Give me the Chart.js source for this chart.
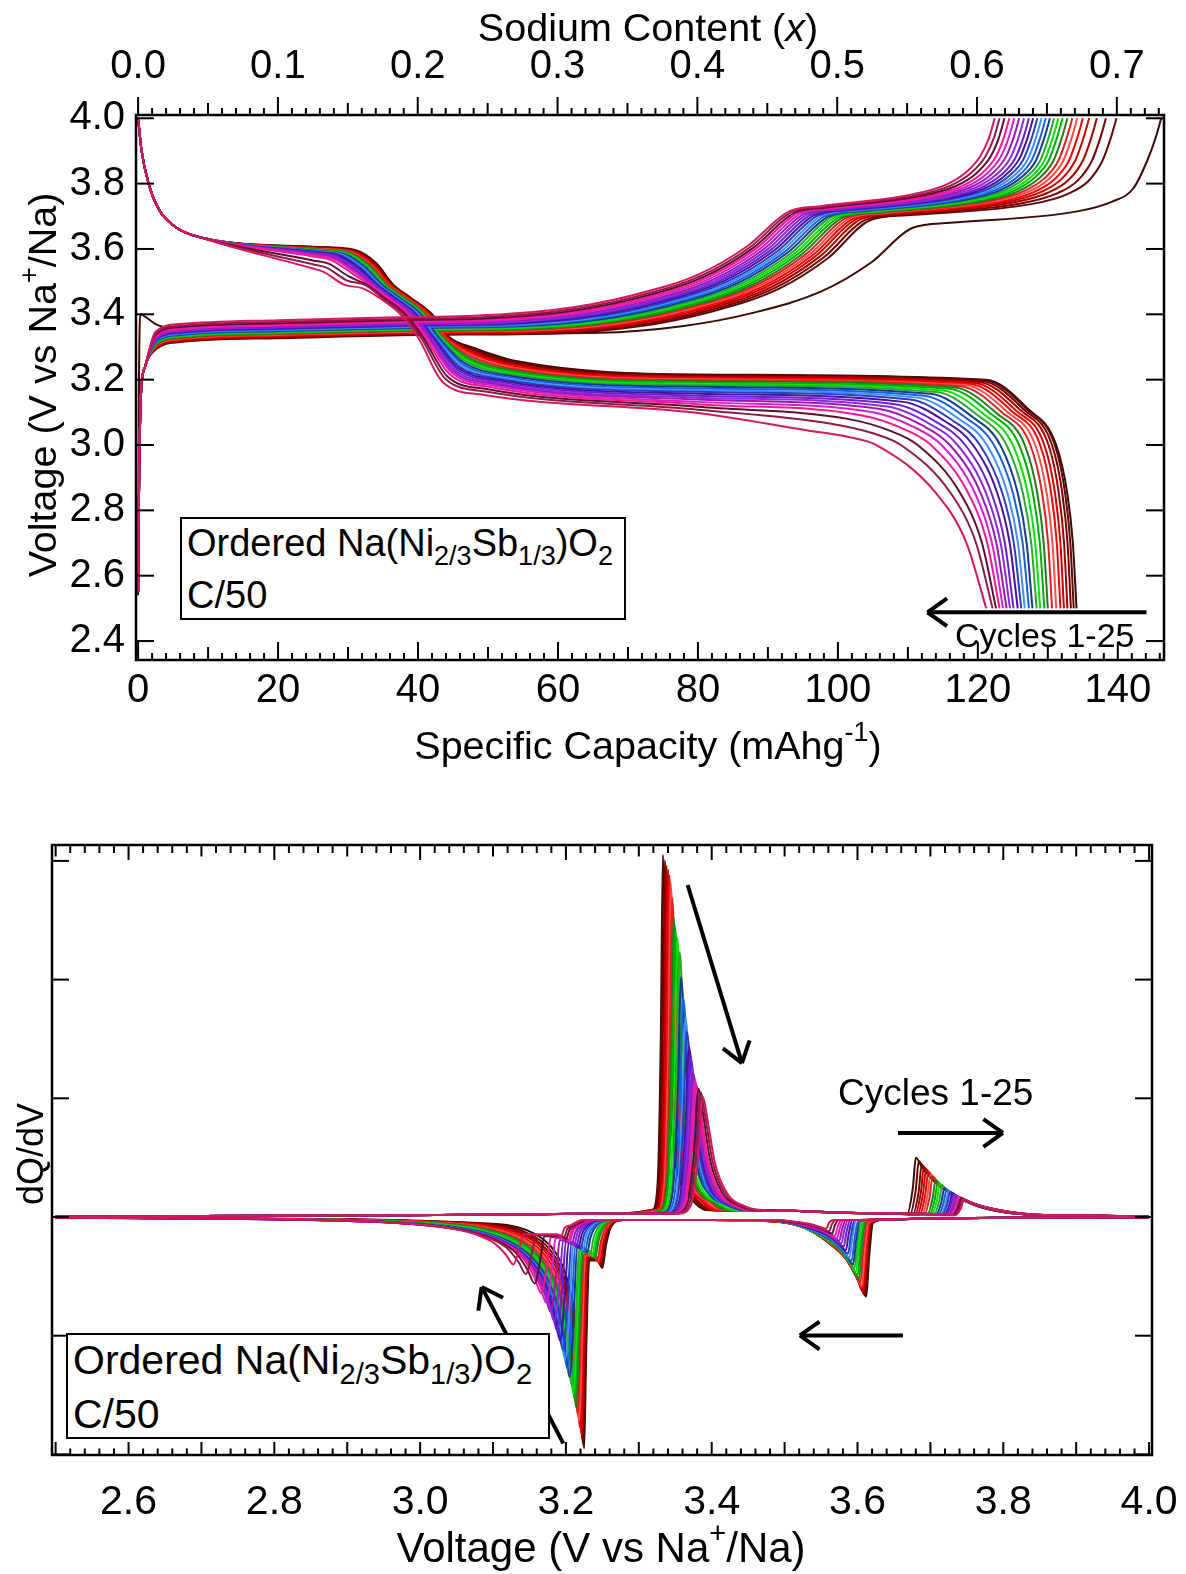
<!DOCTYPE html>
<html>
<head>
<meta charset="utf-8">
<script src="https://cdn.jsdelivr.net/npm/chart.js@4.4.1/dist/chart.umd.min.js"></script>
<style>
  body { margin: 0; background: #fff; }
  #page { position: relative; width: 1186px; height: 1574px; font-family: "Liberation Sans", Arial, sans-serif; color: #000; }
  canvas { position: absolute; left: 0; }
  #capChart { top: 0; }
  #dqdvChart { top: 790px; }
  .note { position: absolute; background: #fff; border: 2px solid #000; box-sizing: border-box; white-space: nowrap; }
  .note .s { position: relative; }
  .label { position: absolute; white-space: nowrap; line-height: 1; }
</style>
</head>
<body>
<div id="page">
  <canvas id="capChart" width="1186" height="780"></canvas>
  <canvas id="dqdvChart" width="1186" height="784"></canvas>

  <div class="note" style="left:180px;top:517px;width:446px;height:103px;font-size:38px;line-height:48px;padding-left:5px">Ordered Na(Ni<span class="s" style="font-size:27px;top:9px">2/3</span>Sb<span class="s" style="font-size:27px;top:9px">1/3</span>)O<span class="s" style="font-size:27px;top:9px">2</span><br>C/50</div>
  <div class="label" style="left:955px;top:618px;font-size:34px">Cycles 1-25</div>

  <div class="note" style="left:66px;top:1333px;width:484px;height:106px;font-size:41px;line-height:50px;padding-left:5px">Ordered Na(Ni<span class="s" style="font-size:29px;top:10px">2/3</span>Sb<span class="s" style="font-size:29px;top:10px">1/3</span>)O<span class="s" style="font-size:29px;top:10px">2</span><br>C/50</div>
  <div class="label" style="left:838px;top:1074px;font-size:37px">Cycles 1-25</div>
</div>

<script>
/* ---------- DATA, cycles 1..25 ---------- */
const cycles = Array.from({ length: 25 }, (_, i) => "Cycle " + (i + 1));

const capTicks = [0, 20, 40, 60, 80, 100, 120, 140];
const naTicks = [0, 0.1, 0.2, 0.3, 0.4, 0.5, 0.6, 0.7];
const voltTicks = [2.4, 2.6, 2.8, 3.0, 3.2, 3.4, 3.6, 3.8, 4.0];
const dqdvVoltTicks = [2.6, 2.8, 3.0, 3.2, 3.4, 3.6, 3.8, 4.0];
const mAhPerNa = 199.8; // 0.7 Na sits at 139.9 mAh/g

// discharge (4.0 -> 2.5 V)
const dischargeHead = [[0, 4.0], [0.5, 3.9], [1.5, 3.8], [3, 3.72], [5.5, 3.665], [9, 3.635]];
const dischargeUpperV = [3.607, 3.606, 3.605, 3.604, 3.603, 3.602, 3.601, 3.600, 3.599, 3.598, 3.597, 3.596, 3.595, 3.594, 3.593, 3.592, 3.590, 3.588, 3.586, 3.584, 3.581, 3.577, 3.565, 3.553, 3.540];
const dischargeStepQ = [42.0, 41.9, 41.8, 41.7, 41.6, 41.5, 41.3, 41.2, 41.0, 40.9, 40.7, 40.6, 40.4, 40.2, 40.0, 39.8, 39.6, 39.4, 39.2, 39.0, 38.8, 38.5, 38.2, 37.9, 37.5];
const dischargeV50 = [3.257, 3.254, 3.251, 3.248, 3.245, 3.242, 3.238, 3.234, 3.230, 3.226, 3.222, 3.218, 3.214, 3.210, 3.206, 3.202, 3.198, 3.194, 3.190, 3.186, 3.182, 3.177, 3.170, 3.163, 3.153];
const dischargeV80 = [3.216, 3.214, 3.212, 3.210, 3.207, 3.204, 3.201, 3.198, 3.195, 3.191, 3.187, 3.183, 3.178, 3.173, 3.168, 3.163, 3.157, 3.151, 3.145, 3.139, 3.132, 3.125, 3.117, 3.108, 3.098];
const dischargeKneeV = [3.200, 3.198, 3.196, 3.193, 3.190, 3.187, 3.184, 3.180, 3.176, 3.172, 3.167, 3.162, 3.157, 3.151, 3.145, 3.139, 3.132, 3.125, 3.118, 3.110, 3.101, 3.091, 3.080, 3.065, 3.045];
const dischargeQ3V = [131.2, 131.0, 130.6, 130.1, 129.5, 128.9, 128.2, 127.5, 126.7, 125.9, 125.0, 124.1, 123.2, 122.3, 121.3, 120.3, 119.3, 118.2, 117.1, 116.0, 114.8, 113.3, 111.4, 109.0, 105.5];
const dischargeEnd = [134.1, 133.7, 133.3, 132.8, 132.3, 131.8, 131.2, 130.6, 130.0, 129.5, 128.9, 128.4, 127.8, 127.3, 126.7, 126.2, 125.7, 125.1, 124.6, 124.1, 123.6, 123.1, 122.6, 122.1, 121.2];

// charge (2.5 -> 4.0 V)
const firstChargeHead = [[0, 2.54], [0.1, 3.1], [0.3, 3.40], [1.2, 3.39], [2.5, 3.37], [5, 3.355], [9, 3.345]];
const chargeLowV = [3.330, 3.327, 3.329, 3.331, 3.333, 3.335, 3.337, 3.339, 3.341, 3.343, 3.345, 3.347, 3.349, 3.351, 3.353, 3.355, 3.357, 3.359, 3.361, 3.363, 3.366, 3.369, 3.373, 3.377, 3.382];
const chargeStepQ = [110.7, 104.6, 104.0, 103.4, 102.8, 102.3, 101.8, 101.3, 100.8, 100.3, 99.8, 99.3, 98.8, 98.3, 97.8, 97.3, 96.8, 96.3, 95.8, 95.3, 94.8, 94.3, 93.9, 93.5, 93.1];
const chargeHighV = [3.665, 3.688, 3.690, 3.692, 3.693, 3.694, 3.695, 3.696, 3.697, 3.698, 3.699, 3.700, 3.701, 3.702, 3.703, 3.704, 3.705, 3.706, 3.707, 3.708, 3.709, 3.710, 3.712, 3.714, 3.716];
const chargeEnd = [146.2, 139.8, 138.3, 137.0, 135.9, 135.0, 134.2, 133.5, 132.8, 132.1, 131.5, 130.9, 130.3, 129.7, 129.1, 128.5, 127.9, 127.3, 126.6, 125.9, 125.2, 124.5, 123.8, 123.1, 122.4];
const chargeRiseShape = [[-45, 0.04], [-33, 0.1], [-23, 0.22], [-13, 0.42], [-6, 0.68], [0, 1]];

// dQ/dV, charge peaks
const chargePeakV = [3.333, 3.334, 3.336, 3.338, 3.340, 3.342, 3.344, 3.346, 3.348, 3.350, 3.353, 3.356, 3.358, 3.361, 3.364, 3.366, 3.369, 3.371, 3.373, 3.375, 3.377, 3.379, 3.382, 3.385, 3.388];
const chargePeakH = [3.05, 3.02, 3.00, 2.96, 2.93, 2.88, 2.81, 2.69, 2.52, 2.44, 2.35, 2.23, 2.02, 1.85, 1.68, 1.56, 1.43, 1.35, 1.26, 1.20, 1.15, 1.11, 1.08, 1.05, 1.01];
const chargePeakW = [0.0035, 0.0036, 0.0037, 0.0038, 0.0040, 0.0042, 0.0044, 0.0046, 0.0048, 0.0050, 0.0052, 0.0055, 0.0058, 0.0060, 0.0062, 0.0064, 0.0066, 0.0068, 0.0070, 0.0072, 0.0074, 0.0076, 0.0078, 0.0080, 0.0082];
const chargePeakShape = [[-4, 0.02], [-2, 0.1], [-0.8, 0.5], [0, 1], [0.8, 0.8], [2, 0.45], [4, 0.2], [7, 0.09], [11, 0.05]];
const chargePeak2V = [3.680, 3.684, 3.688, 3.691, 3.694, 3.697, 3.700, 3.703, 3.707, 3.710, 3.713, 3.716, 3.719, 3.722, 3.725, 3.727, 3.730, 3.732, 3.734, 3.736, 3.738, 3.740, 3.742, 3.744, 3.746];
const chargePeak2H = [0.50, 0.47, 0.44, 0.42, 0.40, 0.38, 0.36, 0.34, 0.31, 0.29, 0.28, 0.26, 0.24, 0.23, 0.22, 0.21, 0.20, 0.19, 0.18, 0.175, 0.17, 0.165, 0.16, 0.155, 0.15];
const chargePeak2Shape = [[-0.012, 0.05], [-0.004, 0.5], [0, 1], [0.008, 0.85], [0.025, 0.6], [0.05, 0.38], [0.08, 0.2], [0.12, 0.08], [0.17, 0.03]];

// dQ/dV, discharge peaks
const dischargePeakV = [3.225, 3.224, 3.223, 3.222, 3.221, 3.219, 3.218, 3.216, 3.214, 3.212, 3.210, 3.208, 3.205, 3.202, 3.199, 3.196, 3.192, 3.188, 3.184, 3.179, 3.173, 3.166, 3.157, 3.145, 3.128];
const dischargePeakH = [1.95, 1.93, 1.90, 1.86, 1.82, 1.77, 1.72, 1.66, 1.60, 1.54, 1.48, 1.42, 1.35, 1.28, 1.20, 1.12, 1.04, 0.96, 0.88, 0.80, 0.72, 0.64, 0.56, 0.48, 0.40];
const dischargePeakW = [0.010, 0.011, 0.012, 0.012, 0.013, 0.014, 0.015, 0.016, 0.017, 0.018, 0.019, 0.020, 0.021, 0.022, 0.023, 0.024, 0.025, 0.026, 0.027, 0.028, 0.029, 0.030, 0.031, 0.032, 0.033];
const dischargePeakShape = [[-12, 0.03], [-7, 0.07], [-4, 0.15], [-2.5, 0.25], [-1.5, 0.38], [-0.8, 0.55], [-0.3, 0.8], [0, 1], [0.3, 0.55]];
const dischargeShoulderV = [3.250, 3.249, 3.248, 3.247, 3.246, 3.245, 3.244, 3.243, 3.240, 3.238, 3.236, 3.233, 3.229, 3.226, 3.223, 3.220, 3.217, 3.214, 3.211, 3.208, 3.205, 3.203, 3.200, 3.197, 3.193];
const dischargeShoulderH = [0.43, 0.42, 0.41, 0.40, 0.39, 0.38, 0.38, 0.37, 0.35, 0.34, 0.33, 0.32, 0.30, 0.29, 0.28, 0.27, 0.26, 0.25, 0.24, 0.23, 0.21, 0.20, 0.19, 0.18, 0.17];
const dischargeHighV = [3.612, 3.611, 3.610, 3.609, 3.608, 3.607, 3.606, 3.604, 3.602, 3.600, 3.598, 3.596, 3.594, 3.592, 3.589, 3.587, 3.584, 3.581, 3.578, 3.575, 3.572, 3.569, 3.565, 3.561, 3.557];
const dischargeHighH = [0.67, 0.66, 0.65, 0.64, 0.62, 0.60, 0.58, 0.55, 0.52, 0.49, 0.46, 0.43, 0.40, 0.37, 0.34, 0.31, 0.28, 0.25, 0.22, 0.20, 0.18, 0.16, 0.14, 0.12, 0.10];
const dischargeHighShape = [[-0.12, 0.06], [-0.08, 0.15], [-0.05, 0.33], [-0.025, 0.55], [-0.01, 0.8], [0, 1], [0.004, 0.5], [0.009, 0.08], [0.02, 0.02]];

/* ---------- STYLE ---------- */
const cycleColors = [
  "#3d0a05", "#5c0a0a", "#7a0000", "#a30000", "#d10000", "#ff0000", "#ff4a4a", "#e02020",
  "#1e7d1e", "#00b000", "#00e600", "#2fa82f",
  "#123c8c", "#1a5fe0", "#3f8fff", "#2a3fbf",
  "#4b0f9e", "#6a1fd0", "#8a2be2", "#9c1aa8",
  "#d21fd2", "#ff1493", "#5c1030", "#8f1a4a", "#d6185e"
];
const FONT = '"Liberation Sans", Arial, sans-serif';

/* ---------- CURVE BUILDERS ---------- */
function dischargeCurve(i) {
  const u = dischargeUpperV[i], S = dischargeStepQ[i];
  const K = dischargeQ3V[i], E = dischargeEnd[i], wK = dischargeKneeV[i];
  return dischargeHead.concat([
    [25, u], [S - 11, u - 0.01], [S - 8, u - 0.05], [S - 5.5, Math.min(3.49, u - 0.06)],
    [S - 3, 3.45], [S, 3.40], [S + 2.5, 3.33], [S + 6, dischargeV50[i] + 0.04], [S + 12, dischargeV50[i]],
    [80, dischargeV80[i]], [K - 10, wK], [K - 4, 3.0 + (wK - 3.0) * 0.55], [K, 3.0],
    [K + (E - K) * 0.55, 2.85], [K + (E - K) * 0.82, 2.7], [E, 2.5]
  ]);
}

function chargeCurve(i) {
  const p = chargeLowV[i], A = chargeStepQ[i], h = chargeHighV[i], E = chargeEnd[i];
  const head = i === 0 ? firstChargeHead
    : [[0, 2.55], [0.15, 2.9], [0.4, 3.15], [1, 3.24], [2.5, p - 0.035], [6, p - 0.012]];
  const rise = chargeRiseShape.map(([dq, f]) => [A + dq, p + f * (h - p)]);
  return head.concat([[20, p], [40, p + 0.01]], rise, [
    [A + (E - A) * 0.15, h + 0.015], [E - 12, h + 0.05], [E - 7, h + 0.08], [E - 4, h + 0.12],
    [E - 2, Math.max(h + 0.17, 3.87)], [E - 0.8, 3.94], [E, 4.0]
  ]);
}

function chargeDqdv(i) {
  const v1 = chargePeakV[i], h1 = chargePeakH[i], w = chargePeakW[i];
  const v2 = chargePeak2V[i], h2 = chargePeak2H[i];
  return [[2.5, 0.005], [2.8, 0.01], [3.1, 0.02], [v1 - 0.06, 0.03]]
    .concat(chargePeakShape.map(([k, f]) => [v1 + k * w, Math.max(h1 * f, 0.03)]))
    .concat([[v1 + 11 * w + 0.02, 0.06], [3.52, 0.05], [3.58, 0.035], [v2 - 0.03, 0.025]])
    .concat(chargePeak2Shape.map(([dv, f]) => [v2 + dv, Math.max(h2 * f, 0.015)]))
    .concat([[v2 + 0.22, 0.008], [4.0, 0.003]]);
}

function dischargeDqdv(i) {
  const vp = dischargePeakV[i], hp = dischargePeakH[i], w = dischargePeakW[i];
  const vs = dischargeShoulderV[i], hs = dischargeShoulderH[i];
  const vh = dischargeHighV[i], hh = dischargeHighH[i];
  return [[2.5, -0.005], [2.7, -0.012]]
    .concat(dischargePeakShape.map(([k, f]) => [vp + k * w, -Math.max(hp * f, 0.012)]))
    .concat([[vp + 0.3 * w + 0.004, -hs * 0.85], [vs - 0.005, -hs * 0.85], [vs, -hs],
      [vs + 0.005, -hs * 0.55], [vs + 0.013, -0.07], [vs + 0.03, -0.025], [3.4, -0.025]])
    .concat(dischargeHighShape.map(([dv, f]) => [vh + dv, -Math.max(hh * f, 0.025)]))
    .concat([[3.7, -0.012], [3.85, -0.006], [4.0, -0.002]]);
}

const toXY = pts => pts.map(([x, y]) => ({ x, y }));

function lineSet(label, pts, color) {
  return { label, data: toXY(pts), borderColor: color, borderWidth: 2, pointRadius: 0, fill: false, cubicInterpolationMode: "monotone" };
}

/* ---------- DRAW HELPERS ---------- */
function drawRich(ctx, parts, cx, cy, size, angle) {
  ctx.save();
  ctx.translate(cx, cy);
  ctx.rotate(angle || 0);
  const fontOf = p => (p.italic ? "italic " : "") + (p.sup ? Math.round(size * 0.68) : size) + "px " + FONT;
  let total = 0;
  parts.forEach(p => { ctx.font = fontOf(p); p.w = ctx.measureText(p.text).width; total += p.w; });
  let x = -total / 2;
  ctx.fillStyle = "#000";
  ctx.textBaseline = "alphabetic";
  ctx.textAlign = "left";
  parts.forEach(p => {
    ctx.font = fontOf(p);
    ctx.fillText(p.text, x, size * 0.36 - (p.sup ? size * 0.45 : 0));
    x += p.w;
  });
  ctx.restore();
}

function drawArrow(ctx, x1, y1, x2, y2, head) {
  ctx.beginPath(); ctx.moveTo(x1, y1); ctx.lineTo(x2, y2); ctx.stroke();
  const ang = Math.atan2(y2 - y1, x2 - x1);
  [ang + Math.PI - 0.62, ang + Math.PI + 0.62].forEach(a => {
    ctx.beginPath(); ctx.moveTo(x2, y2);
    ctx.lineTo(x2 + head * Math.cos(a), y2 + head * Math.sin(a));
    ctx.stroke();
  });
}

// Igor-style frame: box plus major/medium/minor tick marks
const igorAxes = {
  id: "igorAxes",
  afterDatasetsDraw(chart, args, opts) {
    const { ctx, chartArea: a } = chart;
    ctx.save();
    ctx.strokeStyle = "#000";
    ctx.lineWidth = 2;
    opts.ticks.forEach(t => {
      const s = chart.scales[t.scale];
      const first = Math.ceil(s.min / t.step - 1e-6), last = Math.floor(s.max / t.step + 1e-6);
      for (let n = first; n <= last; n++) {
        const len = n % t.major === 0 ? t.lens[0] : (t.medium && n % t.medium === 0 ? t.lens[1] : t.lens[2]);
        const p = s.getPixelForValue(n * t.step);
        ctx.beginPath();
        if (t.side === "bottom" || t.side === "top") {
          const y0 = t.side === "bottom" ? a.bottom : a.top;
          ctx.moveTo(p, y0); ctx.lineTo(p, y0 + t.dir * len);
        } else {
          const x0 = t.side === "left" ? a.left : a.right;
          ctx.moveTo(x0, p); ctx.lineTo(x0 + t.dir * len, p);
        }
        ctx.stroke();
      }
    });
    ctx.lineWidth = 2.5;
    ctx.strokeRect(a.left, a.top, a.right - a.left, a.bottom - a.top);

    ctx.lineWidth = 4;
    const sx = chart.scales.x, sy = chart.scales.y;
    (opts.arrows || []).forEach(ar => {
      drawArrow(ctx, sx.getPixelForValue(ar.from[0]), sy.getPixelForValue(ar.from[1]),
        sx.getPixelForValue(ar.to[0]), sy.getPixelForValue(ar.to[1]), 24);
    });
    (opts.titles || []).forEach(t => drawRich(ctx, t.parts, t.x, t.y, t.size, t.angle));
    ctx.restore();
  }
};

const tickFont = size => ({ family: FONT, size });
const noGrid = { display: false, drawTicks: false };
// keep edge labels from pulling the plot area in
const fixHeight = h => s => { s.height = h; s.paddingLeft = 0; s.paddingRight = 0; };

/* ---------- TOP: VOLTAGE PROFILES ---------- */
// Chart.js paints dataset 0 last, so the newest cycle goes first to end up on top
const capDatasets = [];
cycles.slice().reverse().forEach((c, k) => {
  const i = cycles.length - 1 - k;
  capDatasets.push(lineSet(c + " discharge", dischargeCurve(i), cycleColors[i]));
  capDatasets.push(lineSet(c + " charge", chargeCurve(i), cycleColors[i]));
});

new Chart(document.getElementById("capChart"), {
  type: "line",
  data: { datasets: capDatasets },
  plugins: [igorAxes],
  options: {
    responsive: false,
    animation: false,
    events: [],
    devicePixelRatio: 1,
    layout: { padding: { right: 22 } },
    plugins: {
      legend: { display: false },
      tooltip: { enabled: false },
      igorAxes: {
        ticks: [
          { scale: "x", side: "bottom", step: 2, major: 10, medium: 5, lens: [18, 13, 7], dir: -1 },
          { scale: "xNa", side: "top", step: 0.01, major: 10, medium: 5, lens: [18, 12, 7], dir: -1 },
          { scale: "y", side: "left", step: 0.2, major: 1, lens: [18], dir: 1 },
          { scale: "y", side: "right", step: 0.2, major: 1, lens: [18], dir: -1 }
        ],
        arrows: [{ from: [144.1, 2.488], to: [112.8, 2.488] }],
        titles: [
          { parts: [{ text: "Specific Capacity (mAhg" }, { text: "-1", sup: true }, { text: ")" }], x: 648, y: 745, size: 39.5 },
          { parts: [{ text: "Sodium Content (" }, { text: "x", italic: true }, { text: ")" }], x: 648, y: 27, size: 39.5 },
          { parts: [{ text: "Voltage (V vs Na" }, { text: "+", sup: true }, { text: "/Na)" }], x: 42, y: 385, size: 39.5, angle: -Math.PI / 2 }
        ]
      }
    },
    scales: {
      x: {
        type: "linear", position: "bottom", min: -0.3, max: 146.6,
        afterFit: fixHeight(120),
        afterBuildTicks: s => { s.ticks = capTicks.map(value => ({ value })); },
        ticks: { font: tickFont(40), color: "#000", padding: 7, maxRotation: 0, autoSkip: false },
        grid: noGrid, border: { display: false }
      },
      xNa: {
        type: "linear", position: "top", min: -0.3 / mAhPerNa, max: 146.6 / mAhPerNa,
        afterFit: fixHeight(115),
        afterBuildTicks: s => { s.ticks = naTicks.map(value => ({ value })); },
        ticks: { font: tickFont(40), color: "#000", padding: 24, maxRotation: 0, autoSkip: false, callback: v => v.toFixed(1) },
        grid: noGrid, border: { display: false }
      },
      y: {
        type: "linear", min: 2.342, max: 4.01,
        afterFit: s => { s.width = 136; },
        afterBuildTicks: s => { s.ticks = voltTicks.map(value => ({ value })); },
        ticks: { font: tickFont(40), color: "#000", padding: 11, callback: v => v.toFixed(1) },
        grid: noGrid, border: { display: false }
      }
    }
  }
});

/* ---------- BOTTOM: dQ/dV ---------- */
const dqdvDatasets = [];
cycles.slice().reverse().forEach((c, k) => {
  const i = cycles.length - 1 - k;
  dqdvDatasets.push(lineSet(c + " charge", chargeDqdv(i), cycleColors[i]));
  dqdvDatasets.push(lineSet(c + " discharge", dischargeDqdv(i), cycleColors[i]));
});

new Chart(document.getElementById("dqdvChart"), {
  type: "line",
  data: { datasets: dqdvDatasets },
  plugins: [igorAxes],
  options: {
    responsive: false,
    animation: false,
    events: [],
    devicePixelRatio: 1,
    layout: { padding: { top: 55, right: 34 } },
    plugins: {
      legend: { display: false },
      tooltip: { enabled: false },
      igorAxes: {
        ticks: [
          { scale: "x", side: "bottom", step: 0.02, major: 5, lens: [13, 13, 6.5], dir: -1 },
          { scale: "x", side: "top", step: 0.02, major: 10, medium: 5, lens: [15, 11.5, 8], dir: 1 },
          { scale: "y", side: "left", step: 1, major: 1, lens: [17], dir: 1 },
          { scale: "y", side: "right", step: 1, major: 1, lens: [17], dir: -1 }
        ],
        arrows: [
          { from: [3.367, 2.797], to: [3.4415, 1.297] },
          { from: [3.6555, 0.708], to: [3.7995, 0.708] },
          { from: [3.6624, -0.998], to: [3.521, -0.998] },
          { from: [3.1964, -1.907], to: [3.0844, -0.589] }
        ],
        titles: [
          { parts: [{ text: "Voltage (V vs Na" }, { text: "+", sup: true }, { text: "/Na)" }], x: 601, y: 757, size: 42 },
          { parts: [{ text: "dQ/dV" }], x: 30, y: 364, size: 36, angle: -Math.PI / 2 }
        ]
      }
    },
    scales: {
      x: {
        type: "linear", position: "bottom", min: 2.495, max: 4.004,
        afterFit: fixHeight(119),
        afterBuildTicks: s => { s.ticks = dqdvVoltTicks.map(value => ({ value })); },
        ticks: { font: tickFont(41), color: "#000", padding: 23, maxRotation: 0, autoSkip: false, callback: v => v.toFixed(1) },
        grid: noGrid, border: { display: false }
      },
      y: {
        type: "linear", min: -2.005, max: 3.134,
        afterFit: s => { s.width = 52; },
        ticks: { display: false },
        grid: noGrid, border: { display: false }
      }
    }
  }
});
</script>
</body>
</html>
